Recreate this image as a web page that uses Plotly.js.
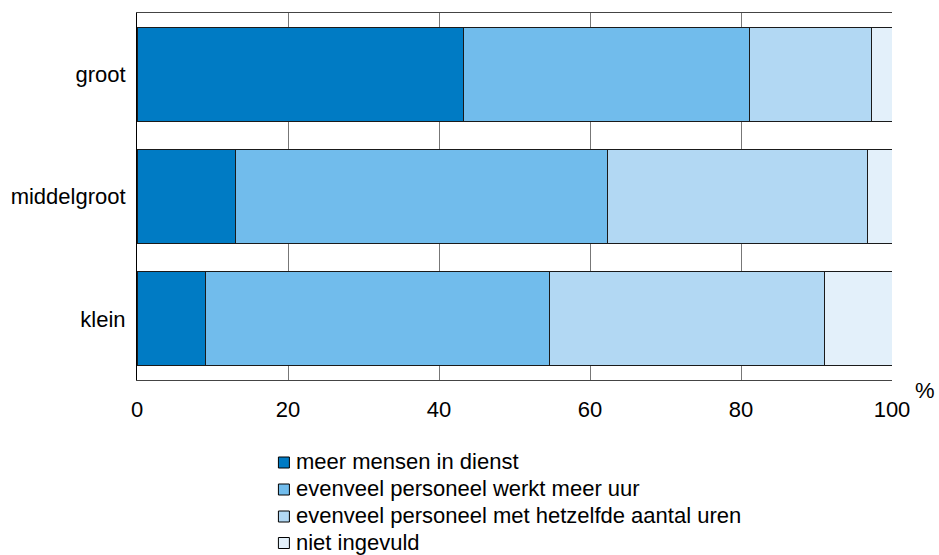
<!DOCTYPE html>
<html>
<head>
<meta charset="utf-8">
<script src="https://cdn.plot.ly/plotly-3.0.1.min.js"></script>
<style>html,body{margin:0;padding:0;background:#fff}#chart{width:939px;height:555px}</style>
</head>
<body>
<div id="chart"></div>
<script>
const categories = ["klein", "middelgroot", "groot"];
const seriesNames = [
  "meer mensen in dienst",
  "evenveel personeel werkt meer uur",
  "evenveel personeel met hetzelfde aantal uren",
  "niet ingevuld"
];
const meerMensen = [9.1, 13.1, 43.3];
const meerUur = [45.5, 49.2, 37.8];
const zelfdeUren = [36.4, 34.5, 16.2];
const nietIngevuld = [9.0, 3.2, 2.7];
const xTicks = [0, 20, 40, 60, 80, 100];

const colors = ["#007BC4", "#71BCEC", "#B2D8F3", "#E3F0FA"];
const values = [meerMensen, meerUur, zelfdeUren, nietIngevuld];

const W = 939, H = 555;
const M = { l: 136.5, r: 47, t: 13, b: 175 };
const plotW = W - M.l - M.r, plotH = H - M.t - M.b;
const px2x = (px) => (px - M.l) / plotW;
const px2y = (py) => (H - M.b - py) / plotH;

const traces = values.map((v, i) => ({
  type: "bar",
  orientation: "h",
  name: seriesNames[i],
  y: categories,
  x: v,
  width: 0.77,
  marker: { color: colors[i], line: { color: "#1a1a1a", width: 1 } },
  hoverinfo: "x+name"
}));

const font = { family: "Liberation Sans, Arial, Helvetica, sans-serif", size: 22, color: "#000" };

// manual legend (rows from top)
const legendRowY = [462.5, 489.5, 516.5, 543];
const legendAnn = seriesNames.map((n, i) => ({
  text: n,
  xref: "paper", yref: "paper",
  x: px2x(294), y: px2y(legendRowY[i] - 1),
  xanchor: "left", yanchor: "middle",
  showarrow: false,
  font: font
}));
const legendShapes = colors.map((c, i) => ({
  type: "rect",
  xref: "paper", yref: "paper",
  x0: px2x(278), x1: px2x(289),
  y0: px2y(legendRowY[i] - 5.5), y1: px2y(legendRowY[i] + 5.5),
  fillcolor: c,
  line: { color: "#000", width: 1 },
  layer: "above"
}));

const layout = {
  width: W,
  height: H,
  margin: M,
  barmode: "stack",
  paper_bgcolor: "#fff",
  plot_bgcolor: "#fff",
  font: font,
  showlegend: false,
  xaxis: {
    range: [0, 100],
    tickvals: xTicks,
    ticktext: xTicks.map(String),
    showgrid: true,
    gridcolor: "#777",
    gridwidth: 1,
    zeroline: false,
    showline: true,
    linecolor: "#444",
    linewidth: 1,
    mirror: true,
    ticks: "",
    ticklabelstandoff: 10,
    tickfont: font,
    fixedrange: true
  },
  yaxis: {
    range: [-0.5, 2.5],
    showgrid: false,
    zeroline: false,
    showline: true,
    linecolor: "#000",
    linewidth: 1,
    ticks: "",
    ticklabelstandoff: 6,
    tickfont: font,
    fixedrange: true
  },
  shapes: legendShapes,
  annotations: [{
    text: "%",
    xref: "paper", yref: "paper",
    x: px2x(925.5), y: px2y(390.5),
    xanchor: "center", yanchor: "middle",
    showarrow: false,
    font: font
  }].concat(legendAnn)
};

Plotly.newPlot("chart", traces, layout, { displayModeBar: false, staticPlot: true });
</script>
</body>
</html>
